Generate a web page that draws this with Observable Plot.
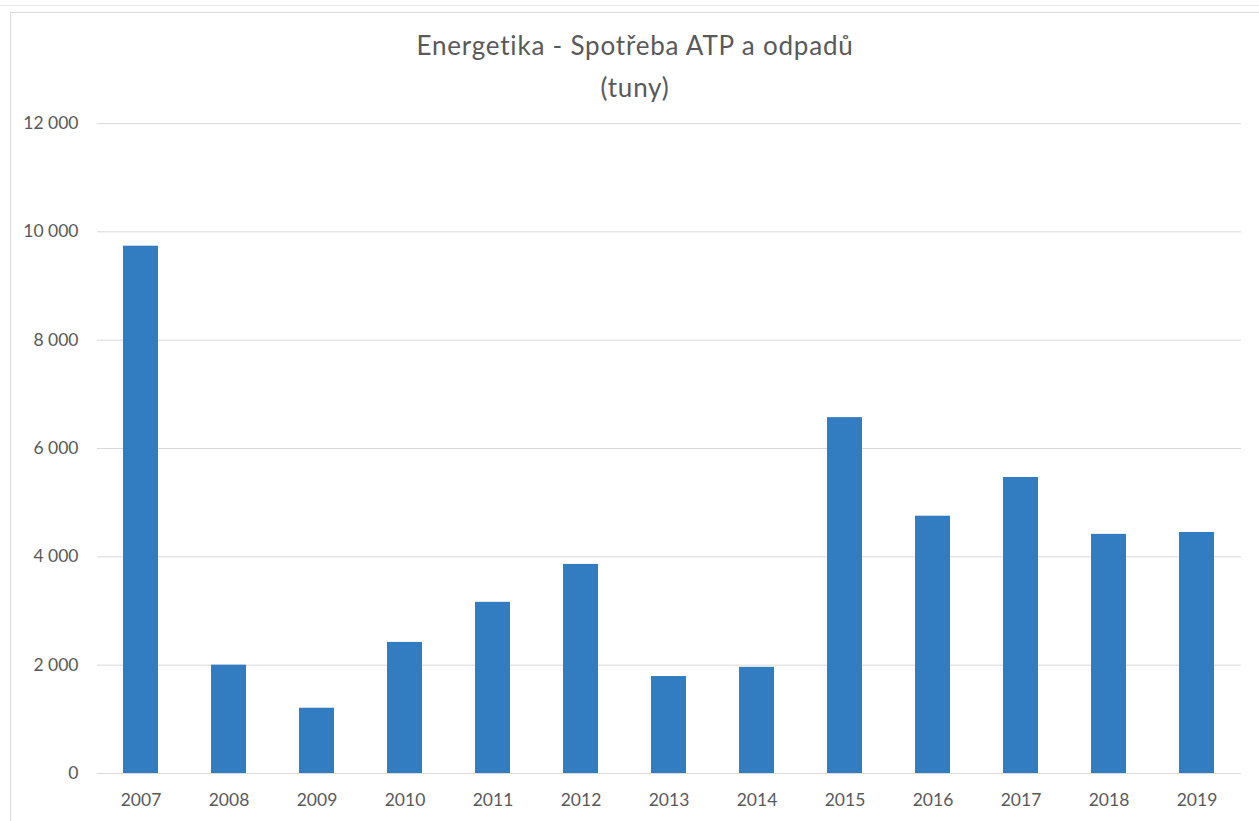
<!DOCTYPE html>
<html>
<head>
<meta charset="utf-8">
<script src="https://cdn.jsdelivr.net/npm/d3@7"></script>
<script src="https://cdn.jsdelivr.net/npm/@observablehq/plot@0.6"></script>
<style>
  html, body { margin: 0; padding: 0; background: #fff; }
  #wrap { position: relative; width: 1259px; height: 821px; overflow: hidden; font-family: Lato, "Open Sans", sans-serif; }
  #topline { position: absolute; left: 0; top: 5px; width: 1259px; height: 0; border-top: 1px solid #e6e6e6; }
  #frame { position: absolute; left: 10px; top: 12px; width: 1300px; height: 900px; border: 1px solid #d9d9d9; box-sizing: border-box; }
  #title { position: absolute; left: 285px; width: 700px; top: 24px; text-align: center; color: #595959; font-size: 26px; line-height: 42px; letter-spacing: 0.8px; }
  #chart { position: absolute; left: 0; top: 105px; }
</style>
</head>
<body>
<div id="wrap">
  <div id="topline"></div>
  <div id="frame"></div>
  <div id="title">Energetika - Spotřeba ATP a odpadů<br>(tuny)</div>
  <div id="chart"></div>
</div>
<script>
const years = ["2007","2008","2009","2010","2011","2012","2013","2014","2015","2016","2017","2018","2019"];
const values = [9735, 2000, 1205, 2420, 3160, 3860, 1790, 1960, 6570, 4750, 5465, 4415, 4450];
const yTicks = [0, 2000, 4000, 6000, 8000, 10000, 12000];

const data = years.map((y, i) => ({year: y, value: values[i]}));
const fmt = d => d3.format(",")(d).replace(/,/g, " ");

const plot = Plot.plot({
  width: 1259,
  height: 716,
  marginLeft: 97,
  marginRight: 18,
  marginTop: 18,
  marginBottom: 48,
  style: {fontFamily: "Lato, 'Open Sans', sans-serif", fontSize: "17.5px", color: "#595959", background: "transparent"},
  x: {domain: years, paddingInner: 0.6, paddingOuter: 0.3, label: null, tickSize: 0, tickPadding: 20},
  y: {domain: [0, 12000], ticks: yTicks, label: null, tickSize: 0, tickPadding: 19, tickFormat: fmt},
  marks: [
    Plot.gridY(yTicks, {stroke: "#d9d9d9", strokeOpacity: 1, strokeWidth: 1}),
    Plot.barY(data, {x: "year", y: "value", fill: "#327dc2"})
  ]
});
document.getElementById("chart").appendChild(plot);
</script>
</body>
</html>
